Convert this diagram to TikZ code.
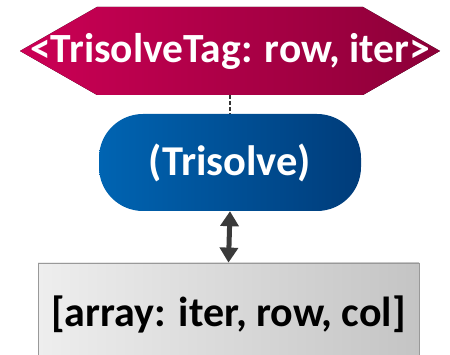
\documentclass[tikz,border=0pt]{standalone}
\usepackage{fontspec}
\setmainfont{Carlito}
\usetikzlibrary{arrows.meta}
\definecolor{tagL}{HTML}{CC0055}
\definecolor{tagR}{HTML}{8C0038}
\definecolor{opL}{HTML}{0064B2}
\definecolor{opR}{HTML}{003C7A}
\definecolor{arrL}{HTML}{EEEEEE}
\definecolor{arrR}{HTML}{C4C4C4}
\definecolor{arrow}{HTML}{3A3A3A}
\tikzset{
  tagshape/.style={left color=tagL, right color=tagR},
  tagtext/.style={inner sep=0pt, text=white, font=\bfseries\fontsize{41.5}{41.5}\selectfont},
  opbox/.style={rectangle, rounded corners=44pt, minimum width=262pt, minimum height=97pt,
    inner sep=0pt, left color=opL, right color=opR, text=white,
    font=\bfseries\fontsize{42.5}{42.5}\selectfont},
  arraybox/.style={rectangle, draw=gray!80, line width=0.8pt, minimum width=381pt,
    minimum height=102pt, inner sep=0pt, left color=arrL, right color=arrR, text=black,
    font=\bfseries\fontsize{42}{42}\selectfont},
  dashlink/.style={draw=black!80, line width=1.6pt, dash pattern=on 4pt off 2pt},
  dualarrow/.style={draw=arrow, line width=5pt,
    {Triangle[width=18pt,length=15pt]}-{Triangle[width=18pt,length=15pt]}}
}
\begin{document}
\begin{tikzpicture}[x=1pt,y=-1pt]
  \useasboundingbox (0,0) rectangle (450,355);
  % elongated hexagon behind the tag label
  \fill[tagshape] (20,51) -- (97,7) -- (363,7) -- (440,51) -- (363,95) -- (97,95) -- cycle;
  \coordinate (tagbot) at (230,95);
  \node[tagtext] (tag) at (230,51) {<TrisolveTag: row, iter>};
  \node[opbox] (op) at (230,162.5) {(Trisolve)};
  \node[arraybox] (arr) at (228.5,314) {[array: iter, row, col]};
  \draw[dashlink] (tagbot) -- (op.north);
  \draw[dualarrow] (op.south) -- (arr.north);
\end{tikzpicture}
\end{document}
